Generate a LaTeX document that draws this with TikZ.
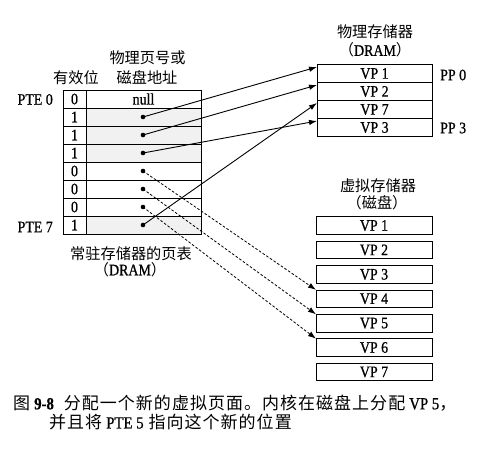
\documentclass[tikz,border=0pt]{standalone}
\usepackage{fontspec}
\setmainfont{Liberation Serif}[FakeStretch=0.87,WordSpace=1.0,FakeBold=0.8]
\newfontfamily\cjk{Noto Sans CJK SC}
\newfontfamily\cjkcap[LetterSpace=6]{Noto Sans CJK SC}
\usetikzlibrary{arrows.meta,calc}
\begin{document}
\begin{tikzpicture}[x=1pt,y=-1pt,
  txt/.style={font=\fontsize{16}{17}\selectfont, inner sep=0pt},
  cjklbl/.style={font=\fontsize{15.2}{16}\selectfont\cjk, inner sep=0pt},
  cell/.style={draw, line width=0.8pt, inner sep=0pt, outer sep=0pt, anchor=north west,
     minimum height=18pt, font=\fontsize{16}{17}\selectfont},
  vcell/.style={cell, minimum width=23pt},
  acell/.style={cell, minimum width=115pt},
  pcell/.style={cell, minimum width=115pt},
  dcell/.style={cell, minimum width=116pt, minimum height=17.7pt},
  shade/.style={fill=gray!11},
  dotn/.style={circle, fill=black, inner sep=0pt, minimum size=4.6pt},
  ptr/.style={line width=0.9pt, -{Latex[length=8pt,width=5.5pt]}},
  dptr/.style={ptr, dash pattern=on 2.6pt off 1.8pt, line width=0.8pt},
  captxt/.style={inner sep=0pt, anchor=west, font=\fontsize{17}{18}\selectfont}
]
\useasboundingbox (0,0) rectangle (492,459);

% page table
\foreach \i/\v in {0/0,1/1,2/1,3/1,4/0,5/0,6/0,7/1} {
  \node[vcell] (v\i) at (63,{90+18*\i}) {\v};
}
\node[acell] (a0) at (86,90) {null};
\node[acell,shade] (a1) at (86,108) {};
\node[acell,shade] (a2) at (86,126) {};
\node[acell,shade] (a3) at (86,144) {};
\node[acell] (a4) at (86,162) {};
\node[acell] (a5) at (86,180) {};
\node[acell] (a6) at (86,198) {};
\node[acell,shade] (a7) at (86,216) {};
\foreach \i in {1,...,7} {
  \node[dotn] (d\i) at (143,{99+18*\i}) {};
}

\node[txt, anchor=east] (pte0) at (53,99.5) {PTE 0};
\node[txt, anchor=east] (pte7) at (53,227) {PTE 7};
\node[cjklbl] (valid) at (76,78) {有效位};
\node[cjklbl] (ppn1) at (147.5,58) {物理页号或};
\node[cjklbl] (ppn2) at (147,78) {磁盘地址};
\node[cjklbl] (pt1) at (131,254) {常驻存储器的页表};
\node[txt] (pt2) at (130,269.5) {{\cjk\fontsize{15.2}{16}\selectfont （}DRAM{\cjk\fontsize{15.2}{16}\selectfont ）}};

% physical memory
\node[pcell] (p0) at (317,64.5) {VP 1};
\node[pcell] (p1) at (317,82.5) {VP 2};
\node[pcell] (p2) at (317,100.5) {VP 7};
\node[pcell] (p3) at (317,118.5) {VP 3};
\node[cjklbl] (phys1) at (375,32) {物理存储器};
\node[txt] (phys2) at (375,50) {{\cjk\fontsize{15.2}{16}\selectfont （}DRAM{\cjk\fontsize{15.2}{16}\selectfont ）}};
\node[txt, anchor=west] (pp0) at (440,75) {PP 0};
\node[txt, anchor=west] (pp3) at (440,128) {PP 3};

% disk
\foreach \i in {0,...,6} {
  \pgfmathtruncatemacro\n{\i+1}
  \node[dcell] (k\i) at (316,{216.7+24.4*\i}) {VP \n};
}
\node[cjklbl] (virt1) at (378,186) {虚拟存储器};
\node[cjklbl] (virt2) at (377,203) {（磁盘）};

% pointers
\coordinate (t0) at ($(p0.north west)+(0,2.5)$);
\coordinate (t1) at ($(p1.north west)+(0,2.5)$);
\coordinate (t2) at ($(p2.north west)+(0,2.5)$);
\coordinate (t3) at ($(p3.north west)+(0,2.5)$);
\draw[ptr] (d1.center) -- (t0);
\draw[ptr] (d2.center) -- (t1);
\draw[ptr] (d3.center) -- (t3);
\draw[ptr] (d7.center) -- (t2);
\draw[dptr] (d4.center) -- (k3.north west);
\draw[dptr] (d5.center) -- (k4.north west);
\draw[dptr] (d6.center) -- (k5.north west);

% caption
\node[captxt] (cap1) at (13,403)
  {{\cjk\fontsize{17}{17}\selectfont 图}\hspace{4pt}\textbf{9-8}\hspace{10pt}{\cjkcap\fontsize{17}{17}\selectfont 分配一个新的虚拟页面。内核在磁盘上分配}\hspace{4pt}VP 5{\cjk\fontsize{17}{17}\selectfont ，}};
\node[captxt] (cap2) at (49,422)
  {{\cjkcap\fontsize{17}{17}\selectfont 并且将}\hspace{4pt}PTE 5\hspace{5pt}{\cjkcap\fontsize{17}{17}\selectfont 指向这个新的位置}};
\end{tikzpicture}
\end{document}
